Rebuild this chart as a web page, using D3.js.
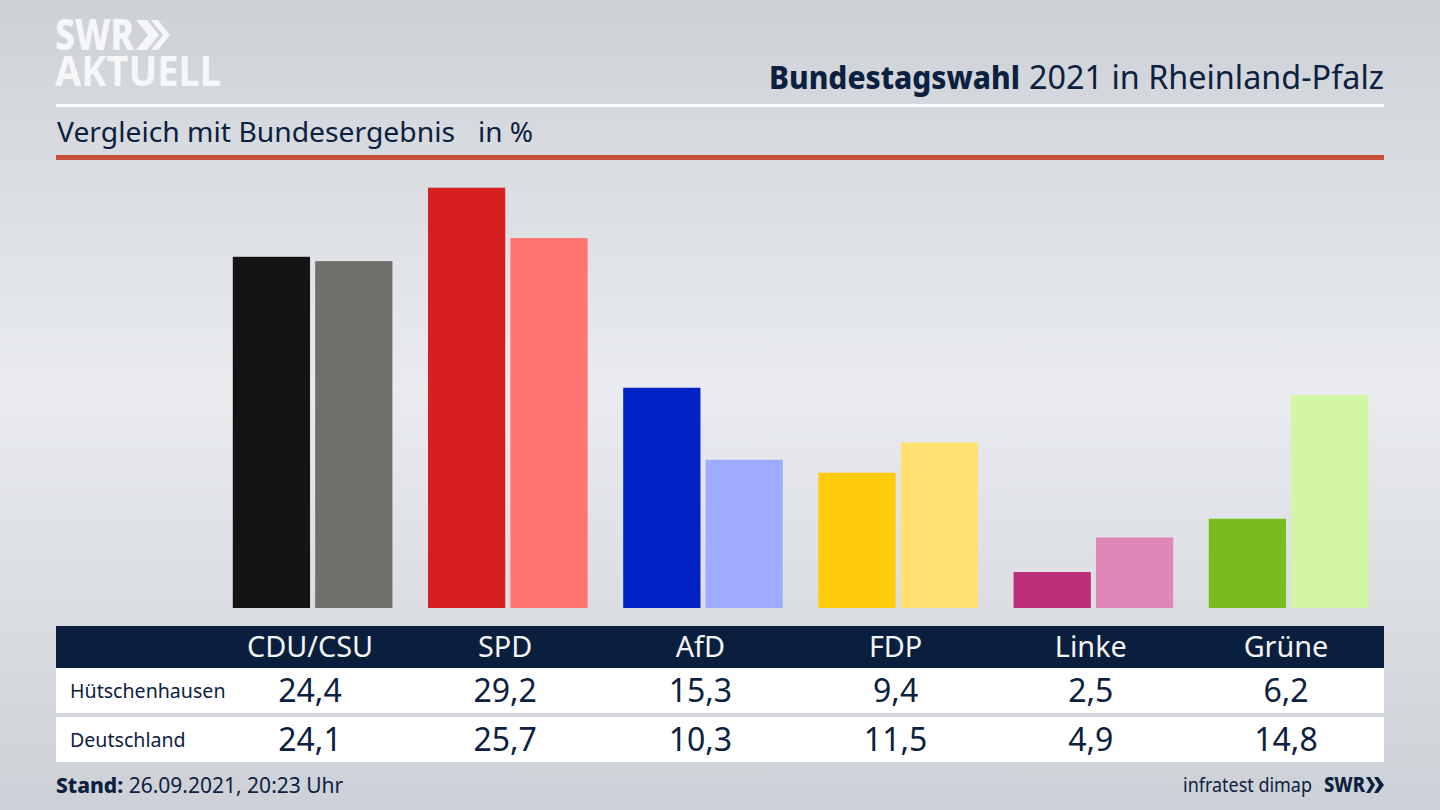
<!DOCTYPE html>
<html>
<head>
<meta charset="utf-8">
<script src="https://d3js.org/d3.v7.min.js"></script>
<style>
html, body { margin: 0; padding: 0; background: #cdd0d6; }
svg { display: block; }
text { font-family: "Noto Sans", sans-serif; fill: #0c2140; }
</style>
</head>
<body>
<script>
var width = 1440;
var height = 810;

var parties = ['CDU/CSU', 'SPD', 'AfD', 'FDP', 'Linke', 'Grüne'];
var regions = ['Hütschenhausen', 'Deutschland'];
var localValues = [24.4, 29.2, 15.3, 9.4, 2.5, 6.2];
var federalValues = [24.1, 25.7, 10.3, 11.5, 4.9, 14.8];
var localColors = ['#141414', '#d71f1f', '#0022c4', '#ffcb0a', '#bc2f78', '#78bc1e'];
var federalColors = ['#72706c', '#ff7470', '#9fabff', '#ffe070', '#df88b8', '#d2f5a6'];

var fmt = function(v) { return v.toFixed(1).replace('.', ','); };

var svg = d3.select('body')
    .append('svg')
    .attr('width', width)
    .attr('height', height);

// background
var grad = svg.append('defs')
    .append('linearGradient')
    .attr('id', 'bg')
    .attr('x1', 0).attr('y1', 0).attr('x2', 0).attr('y2', 1);
grad.append('stop').attr('offset', '0%').attr('stop-color', '#cdd1d6');
grad.append('stop').attr('offset', '48%').attr('stop-color', '#e9ebef');
grad.append('stop').attr('offset', '100%').attr('stop-color', '#cdd0d6');

svg.append('rect')
    .attr('width', width)
    .attr('height', height)
    .attr('fill', 'url(#bg)');

// logo
svg.append('text')
    .attr('x', 55).attr('y', 50)
    .attr('font-size', 42).attr('font-weight', 800)
    .attr('textLength', 79).attr('lengthAdjust', 'spacingAndGlyphs')
    .style('fill', '#f6f7f8')
    .text('SWR');
svg.append('text')
    .attr('x', 55).attr('y', 86)
    .attr('font-size', 41).attr('font-weight', 700)
    .attr('textLength', 166).attr('lengthAdjust', 'spacingAndGlyphs')
    .style('fill', '#f6f7f8')
    .text('AKTUELL');
svg.append('path')
    .attr('d', 'M136 20h11l12 15-12 15h-11l12-15z M151 20h7l12 15-12 15h-7l12-15z')
    .attr('fill', '#f6f7f8');

// header
svg.append('text')
    .attr('x', 769).attr('y', 89)
    .attr('font-size', 32).attr('font-weight', 800)
    .attr('textLength', 251).attr('lengthAdjust', 'spacingAndGlyphs')
    .text('Bundestagswahl');
svg.append('text')
    .attr('x', 1029).attr('y', 89)
    .attr('font-size', 32)
    .attr('textLength', 355).attr('lengthAdjust', 'spacingAndGlyphs')
    .text('2021 in Rheinland-Pfalz');

svg.append('rect')
    .attr('x', 56).attr('y', 104).attr('width', 1328).attr('height', 3)
    .attr('fill', '#ffffff');

svg.append('text')
    .attr('x', 57).attr('y', 142)
    .attr('font-size', 28)
    .attr('textLength', 398).attr('lengthAdjust', 'spacingAndGlyphs')
    .text('Vergleich mit Bundesergebnis');
svg.append('text')
    .attr('x', 478).attr('y', 142)
    .attr('font-size', 28)
    .text('in %');

svg.append('rect')
    .attr('x', 56).attr('y', 155).attr('width', 1328).attr('height', 5)
    .attr('fill', '#c94f3c');

// scales
var xScale = d3.scaleBand()
    .domain(parties)
    .range([212.4, 1383.6]);

var xInner = d3.scaleBand()
    .domain([0, 1])
    .range([20.4, 180])
    .paddingInner(0.062);

var yScale = d3.scaleLinear()
    .domain([0, d3.max(localValues)])
    .range([608, 187.7]);

// bars
var groups = svg.append('g')
    .selectAll('g')
    .data(parties)
    .enter()
    .append('g')
    .attr('transform', function(d) { return 'translate(' + xScale(d) + ',0)'; });

groups.each(function(d, i) {
    var pair = [
        { value: localValues[i], color: localColors[i] },
        { value: federalValues[i], color: federalColors[i] }
    ];
    d3.select(this).selectAll('rect')
        .data(pair)
        .enter()
        .append('rect')
        .attr('x', function(p, j) { return xInner(j); })
        .attr('y', function(p) { return yScale(p.value); })
        .attr('width', xInner.bandwidth())
        .attr('height', function(p) { return yScale(0) - yScale(p.value); })
        .attr('fill', function(p) { return p.color; });
});

// table
svg.append('rect')
    .attr('x', 56).attr('y', 626).attr('width', 1328).attr('height', 42)
    .attr('fill', '#0a1f3e');

svg.append('g')
    .selectAll('text')
    .data(parties)
    .enter()
    .append('text')
    .attr('x', function(d) { return xScale(d) + xScale.bandwidth() / 2; })
    .attr('y', 657)
    .attr('text-anchor', 'middle')
    .attr('font-size', 28.8)
    .style('fill', '#f4f5f7')
    .text(function(d) { return d; });

var rowTop = [668, 717];
var rowValues = [localValues, federalValues];

regions.forEach(function(region, r) {
    svg.append('rect')
        .attr('x', 56).attr('y', rowTop[r]).attr('width', 1328).attr('height', 45)
        .attr('fill', '#ffffff');
    svg.append('text')
        .attr('x', 70).attr('y', rowTop[r] + 29.5)
        .attr('font-size', 19.6)
        .text(region);
    svg.append('g')
        .selectAll('text')
        .data(rowValues[r])
        .enter()
        .append('text')
        .attr('x', function(d, i) { return xScale(parties[i]) + xScale.bandwidth() / 2; })
        .attr('y', rowTop[r] + 34)
        .attr('text-anchor', 'middle')
        .attr('font-size', 32)
        .text(fmt);
});

// footer
var stand = svg.append('text')
    .attr('x', 56).attr('y', 793)
    .attr('font-size', 21);
stand.append('tspan').attr('font-weight', 800).text('Stand:');
stand.append('tspan').text(' 26.09.2021, 20:23 Uhr');

svg.append('text')
    .attr('x', 1312).attr('y', 792)
    .attr('text-anchor', 'end')
    .attr('font-size', 20)
    .attr('textLength', 129).attr('lengthAdjust', 'spacingAndGlyphs')
    .text('infratest dimap');
svg.append('text')
    .attr('x', 1324).attr('y', 792)
    .attr('font-size', 21).attr('font-weight', 800)
    .attr('textLength', 41).attr('lengthAdjust', 'spacingAndGlyphs')
    .text('SWR');
svg.append('path')
    .attr('d', 'M1366 777h4l5 8-5 8h-4l5-8z M1374 777h4l6 8-6 8h-4l5-8z')
    .attr('fill', '#0c2140');
</script>
</body>
</html>
